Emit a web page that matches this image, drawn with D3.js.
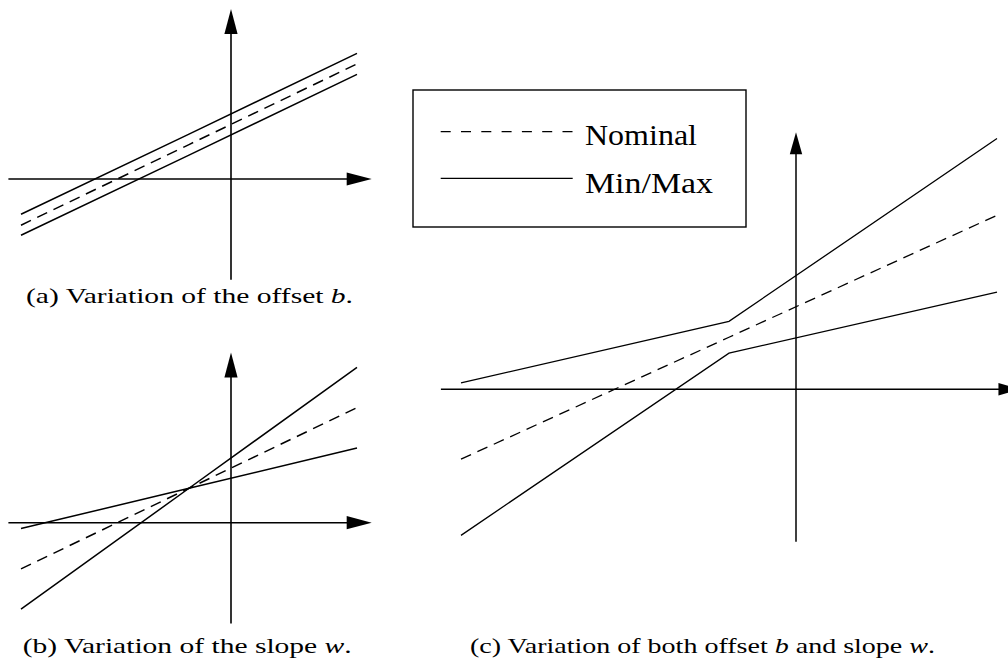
<!DOCTYPE html>
<html>
<head>
<meta charset="utf-8">
<script src="https://cdn.jsdelivr.net/npm/d3@7"></script>
<style>
  html, body { margin: 0; padding: 0; background: #fff; }
  svg { display: block; }
  text { font-family: "Liberation Serif", "Times New Roman", Tinos, Times, serif; fill: #000; }
</style>
</head>
<body>
<svg id="fig" width="1008" height="666"></svg>
<script>
// Sample positions along x where each line is evaluated (the kink sits at x = -1)
const xStops = [-5, -1, 3];

// (a) offset b varies, slope fixed
const offsetNominal = [-1.1, 0.82, 2.74];
const offsetUpper   = [-0.84, 1.07, 2.99];
const offsetLower   = [-1.34, 0.57, 2.49];

// (b) slope w varies, lines pivot around x = -1
const slopeNominal  = [-1.1, 0.82, 2.74];
const slopeSteep    = [-2.06, 0.82, 3.7];
const slopeShallow  = [-0.14, 0.82, 1.78];

// (c) both offset and slope vary: envelope of min / max
const bothNominal   = [-1.1, 0.82, 2.74];
const bothMax       = [0.1, 1.07, 3.95];
const bothMin       = [-2.3, 0.57, 1.53];

// Extent of the drawn coordinate axes (data units)
const axisXExtent = [-5.3, 3.35];
const axisYExtent = [-2.4, 4.05];

const legendLabels = ["Nominal", "Min/Max"];

const captionA = [["(a) Variation of the offset ", false], ["b", true], [".", false]];
const captionB = [["(b) Variation of the slope ", false], ["w", true], [".", false]];
const captionC = [["(c) Variation of both offset ", false], ["b", true], [" and slope ", false], ["w", true], [".", false]];

const svg = d3.select("#fig");

const panels = [
  { ox: 231, oy: 179,   kx: 42, ky: 42,   lw: 1.5, axisW: 1.6, arrowL: 25, arrowW: 6.6,
    series: [{ y: offsetUpper, dash: null }, { y: offsetNominal, dash: "11,7" }, { y: offsetLower, dash: null }] },
  { ox: 231, oy: 522.7, kx: 42, ky: 42,   lw: 1.5, axisW: 1.6, arrowL: 25, arrowW: 6.6,
    series: [{ y: slopeSteep, dash: null }, { y: slopeNominal, dash: "11,7" }, { y: slopeShallow, dash: null }] },
  { ox: 796, oy: 389.3, kx: 67, ky: 63.5, lw: 1.3, axisW: 1.5, arrowL: 22, arrowW: 6.2,
    series: [{ y: bothMax, dash: null }, { y: bothNominal, dash: "11,7" }, { y: bothMin, dash: null }] }
];

panels.forEach(p => {
  const x = d3.scaleLinear().domain([0, 1]).range([p.ox, p.ox + p.kx]);
  const y = d3.scaleLinear().domain([0, 1]).range([p.oy, p.oy - p.ky]);
  const g = svg.append("g");

  // Horizontal axis with arrow head
  const xl = x(axisXExtent[0]), xr = x(axisXExtent[1]), y0 = y(0);
  g.append("line")
    .attr("x1", xl).attr("x2", xr - p.arrowL + 1)
    .attr("y1", y0).attr("y2", y0)
    .attr("stroke", "#000").attr("stroke-width", p.axisW);
  g.append("path")
    .attr("d", `M${xr},${y0}L${xr - p.arrowL},${y0 - p.arrowW}L${xr - p.arrowL},${y0 + p.arrowW}Z`)
    .attr("fill", "#000");

  // Vertical axis with arrow head
  const yb = y(axisYExtent[0]), yt = y(axisYExtent[1]), x0 = x(0);
  g.append("line")
    .attr("x1", x0).attr("x2", x0)
    .attr("y1", yb).attr("y2", yt + p.arrowL - 1)
    .attr("stroke", "#000").attr("stroke-width", p.axisW);
  g.append("path")
    .attr("d", `M${x0},${yt}L${x0 - p.arrowW},${yt + p.arrowL}L${x0 + p.arrowW},${yt + p.arrowL}Z`)
    .attr("fill", "#000");

  const line = d3.line().x((d, i) => x(xStops[i])).y(d => y(d));
  p.series.forEach(s => {
    g.append("path")
      .attr("d", line(s.y))
      .attr("fill", "none")
      .attr("stroke", "#000")
      .attr("stroke-width", p.lw)
      .attr("stroke-linejoin", "miter")
      .attr("stroke-dasharray", s.dash);
  });
});

// Legend
const legend = svg.append("g");
legend.append("rect")
  .attr("x", 413).attr("y", 90).attr("width", 333).attr("height", 137)
  .attr("fill", "#fff").attr("stroke", "#000").attr("stroke-width", 1.4);
const legendRows = [
  { label: legendLabels[0], dash: "10,10.3", ly: 131.7, ty: 145,   w: 112 },
  { label: legendLabels[1], dash: null,      ly: 178.3, ty: 192.5, w: 128 }
];
legendRows.forEach(r => {
  legend.append("line")
    .attr("x1", 440.7).attr("x2", 572.7)
    .attr("y1", r.ly).attr("y2", r.ly)
    .attr("stroke", "#000").attr("stroke-width", 1.3)
    .attr("stroke-dasharray", r.dash);
  legend.append("text")
    .attr("x", 585).attr("y", r.ty)
    .attr("font-size", 30)
    .attr("textLength", r.w).attr("lengthAdjust", "spacingAndGlyphs")
    .text(r.label);
});

// Sub-figure captions
function caption(parts, x0, baseline, width) {
  const t = svg.append("text")
    .attr("x", x0).attr("y", baseline)
    .attr("font-size", 22)
    .attr("textLength", width).attr("lengthAdjust", "spacingAndGlyphs");
  parts.forEach(([s, it]) => {
    t.append("tspan").attr("font-style", it ? "italic" : "normal").text(s);
  });
}
caption(captionA, 26, 303, 327);
caption(captionB, 22.7, 653, 329);
caption(captionC, 470, 653, 465);
</script>
</body>
</html>
